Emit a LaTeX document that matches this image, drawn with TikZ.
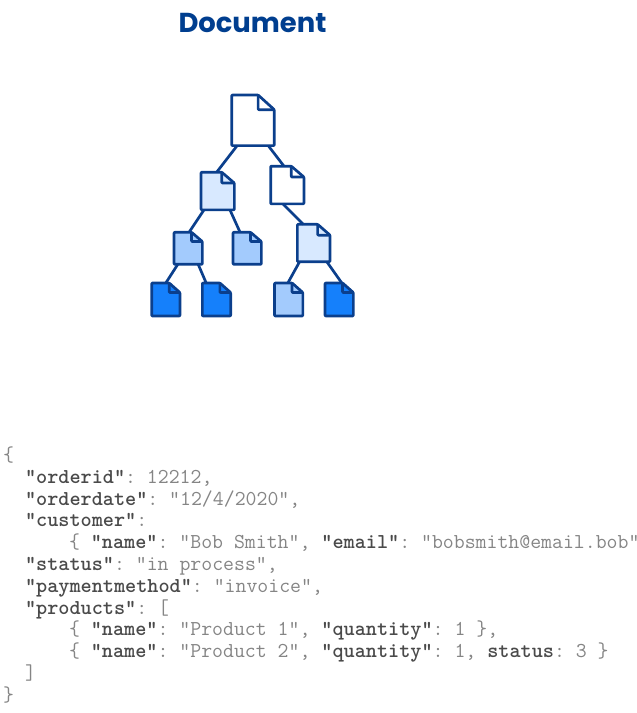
\documentclass[tikz,border=0pt]{standalone}
\usepackage{fontspec}
\setmainfont{Poppins}
\usetikzlibrary{calc}
\definecolor{inkblue}{HTML}{0B3F8C}
\definecolor{titleblue}{HTML}{003E8F}
\definecolor{palefill}{HTML}{D8E9FF}
\definecolor{midfill}{HTML}{A3CBFD}
\definecolor{deepfill}{HTML}{1580FB}
\definecolor{keyc}{HTML}{4A4A4A}
\definecolor{valc}{HTML}{858585}
\tikzset{
  pagebox/.style={inner sep=0pt,outer sep=0pt,draw=none},
  pageline/.style={draw=inkblue,line width=2.7pt,line join=round,rounded corners=0.8pt},
  link/.style={draw=inkblue,line width=2.7pt},
  codeline/.style={anchor=base west,inner sep=0pt,outer sep=0pt,text=valc,font=\ttfamily\frenchspacing\fontsize{21.2}{22}\selectfont},
  titletext/.style={text=titleblue,inner sep=0pt,font=\fontsize{27.4}{32}\selectfont\bfseries}
}
\newcommand\docpage[6]{%
  \node[pagebox,minimum width=#4pt,minimum height=#5pt] (#1) at (#2,#3) {};
  \draw[pageline,fill=#6] (#1.south west) -- (#1.north west)
    -- ($(#1.north east)!.38!(#1.north west)$)
    -- ($(#1.north east)!.29!(#1.south east)$)
    -- (#1.south east) -- cycle;
  \draw[pageline] ($(#1.north east)!.38!(#1.north west)$) |- ($(#1.north east)!.29!(#1.south east)$);
}
\newcommand\kk[1]{\textcolor{keyc}{\bfseries #1}}
\begin{document}
\begin{tikzpicture}[x=1pt,y=-1pt]
\useasboundingbox (0,0) rectangle (637,713);
\node[titletext] (title) at (252.5,23) {Document};
\docpage{root}{253}{120.3}{42.6}{50.6}{white}
\docpage{left}{217.7}{191}{33.3}{37.7}{palefill}
\docpage{right}{287.3}{185}{33.3}{37.7}{white}
\docpage{leftleft}{188.2}{248.3}{28.3}{32}{midfill}
\docpage{leftright}{247.2}{248.3}{28.3}{32}{midfill}
\docpage{rightc}{313.7}{243}{32.7}{37.4}{palefill}
\docpage{leafa}{165.8}{299.5}{28.3}{33}{deepfill}
\docpage{leafb}{216.5}{299.5}{28.3}{33}{deepfill}
\docpage{leafc}{288.7}{299.5}{28.3}{33}{midfill}
\docpage{leafd}{339.2}{299.5}{28.3}{33}{deepfill}
\draw[link] (root.238) -- (left.93);
\draw[link] (root.301) -- (right.100);
\draw[link] (left.234) -- (leftleft.87);
\draw[link] (left.303) -- (leftright.114);
\draw[link] (right.257) -- (rightc.119);
\draw[link] (leftleft.237) -- (leafa.90);
\draw[link] (leftleft.302.5) -- (leafb.122.5);
\draw[link] (rightc.233) -- (leafc.93);
\draw[link] (rightc.305) -- (leafd.81);
\node[codeline] (c0) at (3,461.5) {\{};
\node[codeline] (c1) at (25,483.3) {\kk{"orderid"}: 12212,};
\node[codeline] (c2) at (25,505.1) {\kk{"orderdate"}: "12/4/2020",};
\node[codeline] (c3) at (25,526.9) {\kk{"customer"}:};
\node[codeline] (c4) at (69,548.7) {\{ \kk{"name"}: "Bob Smith", \kk{"email"}: "bobsmith@email.bob"};
\node[codeline] (c5) at (25,570.5) {\kk{"status"}: "in process",};
\node[codeline] (c6) at (25,592.3) {\kk{"paymentmethod"}: "invoice",};
\node[codeline] (c7) at (25,614.1) {\kk{"products"}: [};
\node[codeline] (c8) at (69,635.9) {\{ \kk{"name"}: "Product 1", \kk{"quantity"}: 1 \},};
\node[codeline] (c9) at (69,657.7) {\{ \kk{"name"}: "Product 2", \kk{"quantity"}: 1, \kk{status}: 3 \}};
\node[codeline] (c10) at (25,679.5) {]};
\node[codeline] (c11) at (3,701.3) {\}};
\end{tikzpicture}
\end{document}
